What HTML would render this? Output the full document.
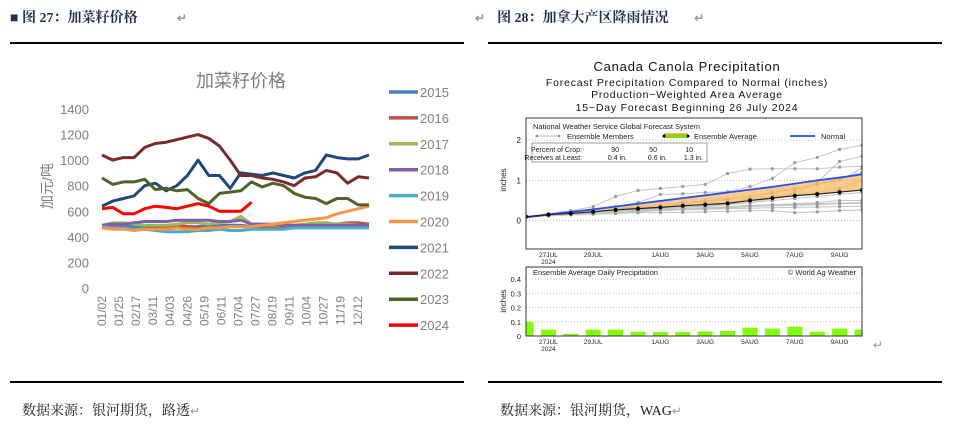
<!DOCTYPE html>
<html><head><meta charset="utf-8">
<style>
body{margin:0;width:964px;height:429px;background:#fff;overflow:hidden;position:relative;font-family:"Liberation Serif","Noto Serif CJK SC",serif}
.abs{position:absolute;white-space:nowrap}
.hdr{font-weight:bold;font-size:14px;color:#1f3050}
.src{font-size:14px;color:#222}
.rule{position:absolute;height:1.5px;background:#000}
.ret{color:#999;font-size:12px}
text.pre{white-space:pre}
</style></head><body>
<div class="abs hdr" style="left:10px;top:7px">■ 图 27：加菜籽价格 <span class="ret" style="margin-left:36px">↵</span></div>
<div class="abs hdr" style="left:475px;top:7px"><span class="ret" style="margin-right:12px">↵</span>图 28：加拿大产区降雨情况 <span class="ret" style="margin-left:22px">↵</span></div>
<div class="rule" style="left:10px;top:42px;width:454px"></div>
<div class="rule" style="left:488px;top:42px;width:454px"></div>
<div class="rule" style="left:10px;top:381px;width:454px"></div>
<div class="rule" style="left:488px;top:381px;width:454px"></div>
<div class="abs src" style="left:22px;top:400px">数据来源：银河期货，路透<span class="ret">↵</span></div>
<div class="abs src" style="left:500px;top:400px">数据来源：银河期货，WAG<span class="ret">↵</span></div>
<div class="abs ret" style="left:873px;top:338px">↵</div>

<svg id="left" width="480" height="370" style="position:absolute;left:0;top:0" font-family="Liberation Sans, Noto Sans CJK SC, sans-serif"></svg>
<svg id="right" width="964" height="370" style="position:absolute;left:0;top:0" font-family="Liberation Sans, sans-serif"></svg>

<script>
// ---------- Left chart data ----------
const years = ["2015","2016","2017","2018","2019","2020","2021","2022","2023","2024"];
const colors = ["#4a7ebb","#c0504d","#9bbb59","#7f5fa8","#4bacc6","#f79646","#1f497d","#772c2a","#4f6228","#ff0000"];
const xTicks = ["01/02","01/25","02/17","03/11","04/03","04/26","05/19","06/11","07/04","07/27","08/19","09/11","10/04","10/27","11/19","12/12"];
const yTicks = [0,200,400,600,800,1000,1200,1400];
const s2015 = [490,490,490,480,480,470,470,470,480,480,490,490,490,490,480,480,480,480,480,480,480,480,480,480,480,480];
const s2016 = [480,480,470,460,460,470,480,490,480,470,470,470,480,480,480,480,470,470,470,490,490,490,500,510,510,500];
const s2017 = [490,510,510,500,490,490,490,500,510,510,500,510,520,560,500,500,490,490,490,500,510,510,500,500,490,480];
const s2018 = [490,500,500,510,520,520,520,530,530,530,530,520,520,530,500,500,500,490,490,490,490,490,490,490,490,490];
const s2019 = [480,470,470,460,460,450,440,440,440,450,450,460,450,450,460,460,460,460,470,470,470,470,470,470,470,470];
const s2020 = [470,460,460,450,460,460,460,470,460,460,470,470,480,480,480,490,500,510,520,530,540,550,580,600,620,640];
const s2021 = [640,680,700,720,800,820,760,800,880,1000,880,880,780,900,890,880,900,880,860,900,920,1040,1020,1010,1010,1040];
const s2022 = [1040,1000,1020,1020,1100,1130,1140,1160,1180,1200,1170,1110,1000,880,880,860,850,830,800,860,870,920,900,820,870,860];
const s2023 = [860,810,830,830,850,770,780,760,770,700,660,740,750,760,830,790,820,800,740,710,700,660,700,700,650,650];
const s2024 = [620,630,580,580,620,640,630,620,640,660,640,600,600,600,670];
const series = [s2015,s2016,s2017,s2018,s2019,s2020,s2021,s2022,s2023,s2024];

const NS="http://www.w3.org/2000/svg";
function mk(p,tag,attrs){const e=document.createElementNS(NS,tag);for(const k in attrs)e.setAttribute(k,attrs[k]);p.appendChild(e);return e;}
const L=document.getElementById('left');
const lx0=102,lx1=369,ly0=288,ly1=109;
const lx=i=>lx0+i*(lx1-lx0)/25;
const ly=v=>ly0-(v/1400)*(ly0-ly1);
let t=mk(L,'text',{x:241,y:87,'text-anchor':'middle','font-size':18,fill:'#7f7f7f'});t.textContent='加菜籽价格';

yTicks.forEach(v=>{const e=mk(L,'text',{x:89,y:ly(v)+5,'text-anchor':'end','font-size':13,fill:'#7f7f7f'});e.textContent=v;
});
t=mk(L,'text',{x:0,y:0,'font-size':14,fill:'#7f7f7f','text-anchor':'middle',transform:'translate(52,186) rotate(-90)'});t.textContent='加元/吨';

xTicks.forEach((s,i)=>{const xx=102+i*17.05;
const e=mk(L,'text',{x:0,y:0,'font-size':12,fill:'#7f7f7f','text-anchor':'end',transform:`translate(${xx+4},296) rotate(-90)`});e.textContent=s;
});
series.forEach((s,k)=>{const d=s.map((v,i)=>(i?'L':'M')+lx(i).toFixed(1)+' '+ly(v).toFixed(1)).join(' ');
const p=mk(L,'path',{d:d,fill:'none',stroke:colors[k],'stroke-width':3,'stroke-linejoin':'round'});
});
years.forEach((y,k)=>{const yy=92+k*25.9;
const l=mk(L,'line',{x1:389,x2:418,y1:yy,y2:yy,stroke:colors[k],'stroke-width':3.5});

const e=mk(L,'text',{x:420,y:yy+5,'font-size':13,fill:'#7f7f7f'});e.textContent=y;
});

// ---------- Right chart data ----------
const days = [0,1,2,3,4,5,6,7,8,9,10,11,12,13,14,15];
const dateLabels = ["27JUL","29JUL","1AUG","3AUG","5AUG","7AUG","9AUG"];
const dateDays = [1,3,6,8,10,12,14];
const upperTicks = [0,1,2];
const lowerTicks = [0,0.1,0.2,0.3,0.4];
const ensAvg = [0.1,0.15,0.18,0.22,0.27,0.3,0.33,0.37,0.4,0.43,0.5,0.56,0.62,0.66,0.71,0.76];
const normal = [0.08,0.15,0.22,0.28,0.35,0.42,0.49,0.56,0.63,0.7,0.77,0.84,0.92,1.0,1.07,1.15];
const m1 = [0.1,0.18,0.25,0.35,0.6,0.75,0.8,0.85,0.9,1.17,1.28,1.29,1.29,1.29,1.33,1.35];
const m2 = [0.1,0.15,0.2,0.3,0.35,0.45,0.65,0.67,0.7,0.72,0.85,1.05,1.44,1.57,1.77,1.87];
const m3 = [0.1,0.14,0.18,0.22,0.25,0.28,0.3,0.33,0.35,0.4,0.45,0.55,0.7,0.95,1.47,1.6];
const m4 = [0.1,0.12,0.14,0.16,0.18,0.2,0.2,0.21,0.22,0.23,0.25,0.25,0.2,0.22,0.25,0.27];
const m5 = [0.1,0.13,0.16,0.2,0.23,0.26,0.28,0.3,0.32,0.35,0.38,0.4,0.42,0.45,0.5,0.5];
const m6 = [0.1,0.15,0.2,0.25,0.3,0.35,0.4,0.45,0.5,0.55,0.6,0.7,0.8,0.9,1.0,1.3];
const m7 = [0.1,0.12,0.15,0.18,0.2,0.22,0.25,0.28,0.3,0.32,0.35,0.37,0.38,0.4,0.42,0.43];
const m8 = [0.1,0.14,0.17,0.2,0.25,0.3,0.35,0.38,0.4,0.45,0.55,0.6,0.65,0.7,0.8,1.0];
const m9 = [0.1,0.13,0.17,0.21,0.24,0.27,0.3,0.34,0.37,0.41,0.45,0.5,0.55,0.6,0.66,0.7];
const m10 = [0.1,0.12,0.16,0.19,0.22,0.24,0.27,0.29,0.31,0.33,0.35,0.38,0.4,0.42,0.44,0.45];
const m11 = [0.1,0.15,0.19,0.24,0.29,0.33,0.38,0.42,0.46,0.52,0.6,0.68,0.78,0.9,1.05,1.2];
const m12 = [0.1,0.13,0.15,0.18,0.21,0.23,0.25,0.27,0.28,0.3,0.31,0.32,0.33,0.34,0.35,0.36];
const members = [m1,m2,m3,m4,m5,m6,m7,m8,m9,m10,m11,m12];
const daily = [0.1,0.045,0.015,0.045,0.045,0.03,0.028,0.028,0.033,0.035,0.058,0.052,0.065,0.03,0.052,0.045];

const R=document.getElementById('right');
const bx0=526,bx1=862;
const rx=d=>bx0+d*(bx1-bx0)/15;
const uy=v=>220.7-v*40.3;
const dy=v=>336-v*142.5;
const titles=[["Canada Canola Precipitation",71,13],["Forecast Precipitation Compared to Normal (inches)",86,10.5],["Production−Weighted Area Average",98,10.5],["15−Day Forecast Beginning 26 July 2024",111,10.5]];
titles.forEach(a=>{const e=mk(R,'text',{x:687,y:a[1],'text-anchor':'middle','font-size':a[2],fill:'#111','letter-spacing':'0.8'});e.textContent=a[0];
});
let g=mk(R,'defs',{});let cp=mk(g,'clipPath',{id:'cu'});mk(cp,'rect',{x:bx0,y:118,width:bx1-bx0,height:131});
cp=mk(g,'clipPath',{id:'cl'});mk(cp,'rect',{x:bx0,y:267,width:bx1-bx0,height:69});
upperTicks.forEach(v=>{const e=mk(R,'line',{x1:bx0,x2:bx1,y1:uy(v),y2:uy(v),stroke:'#aaa','stroke-dasharray':'1 2','stroke-width':0.8});

const tx=mk(R,'text',{x:521,y:uy(v)+3,'text-anchor':'end','font-size':8,fill:'#111'});tx.textContent=v;
});
const ug=mk(R,'g',{'clip-path':'url(#cu)'});
members.forEach(m=>{const p=mk(ug,'path',{d:m.map((v,i)=>(i?'L':'M')+rx(days[i])+' '+uy(v)).join(' '),fill:'none',stroke:'#c4c4c4','stroke-width':1});

m.forEach((v,i)=>{if(i>0){const c=mk(ug,'circle',{cx:rx(days[i]),cy:uy(v),r:1.6,fill:'#999'});
}});});
let band=ensAvg.map((v,i)=>(i?'L':'M')+rx(days[i])+' '+uy(v)).join(' ')+' '+normal.map((v,i)=>'L'+rx(days[15-i])+' '+uy(normal[15-i])).join(' ')+'Z';
let b=mk(ug,'path',{d:band,fill:'#f5b960',opacity:0.75});
b=mk(ug,'path',{d:normal.map((v,i)=>(i?'L':'M')+rx(days[i])+' '+uy(v)).join(' '),fill:'none',stroke:'#2a4cf5','stroke-width':1.8});

b=mk(ug,'path',{d:ensAvg.map((v,i)=>(i?'L':'M')+rx(days[i])+' '+uy(v)).join(' '),fill:'none',stroke:'#222','stroke-width':1.2});

ensAvg.forEach((v,i)=>{const c=mk(ug,'circle',{cx:rx(days[i]),cy:uy(v),r:2,fill:'#000'});
});
b=mk(R,'rect',{x:bx0,y:118,width:bx1-bx0,height:131,fill:'none',stroke:'#333','stroke-width':1});

function txt(x,y,s,fs,nm,anchor){const e=mk(R,'text',{x:x,y:y,'font-size':fs,fill:'#222','text-anchor':anchor||'start'});e.textContent=s;
return e;}
txt(533,129,"National Weather Service Global Forecast System",7.5,'legend-source');
mk(R,'line',{x1:535,x2:560,y1:136,y2:136,stroke:'#bbb'});mk(R,'circle',{cx:537,cy:136,r:1.2,fill:'#888'});mk(R,'circle',{cx:559,cy:136,r:1.2,fill:'#888'});
txt(567,139,"Ensemble Members",7.5,'legend-ensemble-members');
mk(R,'rect',{x:664,y:134,width:24,height:4,fill:'#7fe000'});mk(R,'line',{x1:664,x2:688,y1:134,y2:134,stroke:'#e8a040','stroke-width':1.5});
mk(R,'circle',{cx:664,cy:136,r:1.5,fill:'#000'});mk(R,'circle',{cx:688,cy:136,r:1.5,fill:'#000'});
txt(694,139,"Ensemble Average",7.5,'legend-ensemble-average');
mk(R,'line',{x1:790,x2:815,y1:136,y2:136,stroke:'#2a4cf5','stroke-width':1.8});
txt(821,139,"Normal",7.5,'legend-normal');
mk(R,'rect',{x:532,y:143,width:175,height:19,fill:'none',stroke:'#888','stroke-width':0.8});
const pr=[["Percent of Crop:",586,152],["90",623,152],["50",661,152],["10",697,152],["Receives at Least:",586,160],["0.4 in.",631,160],["0.6 in.",671,160],["1.3 in.",707,160]];
pr.forEach(a=>{const e=txt(a[1]-4,a[2],a[0],7,'crop-percent-text','end');});
let e=mk(R,'text',{x:0,y:0,'font-size':8,fill:'#222','text-anchor':'middle',transform:'translate(506,180) rotate(-90)'});e.textContent='inches';

dateLabels.forEach((s,i)=>{txt(rx(dateDays[i]),257,s,6.5,'upper-x-tick','middle');txt(rx(dateDays[i]),344,s,6.5,'lower-x-tick','middle');});
txt(rx(1),264,"2024",6.5,'upper-x-year','middle');txt(rx(1),351,"2024",6.5,'lower-x-year','middle');
lowerTicks.forEach(v=>{if(v>0){const l=mk(R,'line',{x1:bx0,x2:bx1,y1:dy(v),y2:dy(v),stroke:'#aaa','stroke-dasharray':'1 2','stroke-width':0.8});
}
txt(521,dy(v)+3,String(v),7.5,'lower-y-tick','end');});
const lg=mk(R,'g',{'clip-path':'url(#cl)'});
daily.forEach((v,i)=>{const r=mk(lg,'rect',{x:rx(days[i])-7.5,y:dy(v),width:15,height:dy(0)-dy(v),fill:'#7fff00'});
});
b=mk(R,'rect',{x:bx0,y:267,width:bx1-bx0,height:69,fill:'none',stroke:'#333','stroke-width':1});

txt(533,275,"Ensemble Average Daily Precipitation",7.5,'lower-chart-title');
txt(856,275,"© World Ag Weather",7.5,'credit','end');
e=mk(R,'text',{x:0,y:0,'font-size':8,fill:'#222','text-anchor':'middle',transform:'translate(506,301) rotate(-90)'});e.textContent='inches';

</script>
</body></html>
